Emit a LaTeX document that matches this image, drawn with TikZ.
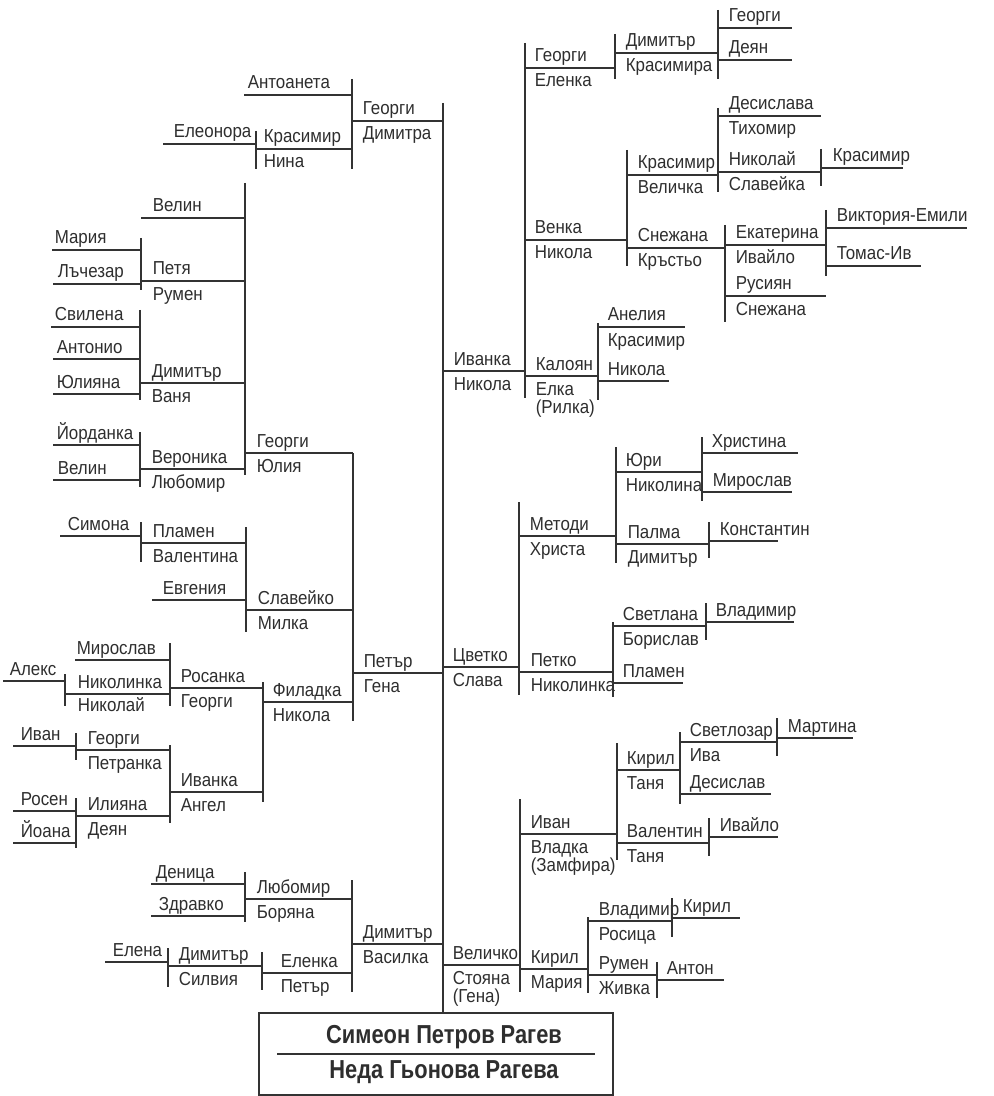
\documentclass[tikz,border=0pt]{standalone}
\usepackage{fontspec}
\setmainfont{Liberation Sans}[FakeStretch=0.9]
\newfontfamily\rootfont{Liberation Sans}[FakeStretch=0.84]
\begin{document}
\begin{tikzpicture}[x=0.5pt, y=-0.5pt, line width=0.8pt, draw=black!80,
  nm/.style={anchor=base west, inner sep=0pt, text=black!82, font=\fontsize{9.4}{10}\selectfont},
  rootnm/.style={anchor=base, inner sep=0pt, text=black!82, font=\rootfont\bfseries\fontsize{13}{14}\selectfont}]
\useasboundingbox (0,0) rectangle (994,1096);

% trunk and root box
\draw (443,103) -- (443,1013);
\draw (259,1095) -- (259,1013) -- (613,1013) -- (613,1095) -- cycle;
\node[rootnm] (simeon) at (444,1043) {Симеон Петров Рагев};
\node[rootnm] (neda) at (444,1078) {Неда Гьонова Рагева};
\draw (277,1054) -- (595,1054);

% ---- left: Георги / Димитра
\draw (352,121) -- (443,121);
\node[nm] (gd-a) at (362,115) {Георги};
\node[nm] (gd-b) at (362,140) {Димитра};
\draw (352,79) -- (352,169);
\draw (244,95) -- (352,95);
\node[nm] (antoaneta) at (247,89) {Антоанета};
\draw (256,149) -- (352,149);
\node[nm] (kn-a) at (263,143) {Красимир};
\node[nm] (kn-b) at (263,168) {Нина};
\draw (256,131) -- (256,169);
\draw (163,144) -- (256,144);
\node[nm] (eleonora) at (173,138) {Елеонора};

% ---- left: Петър / Гена
\draw (353,673) -- (443,673);
\node[nm] (pg-a) at (363,667) {Петър};
\node[nm] (pg-b) at (363,692) {Гена};
\draw (353,453) -- (353,721);
% Георги / Юлия
\draw (245,453) -- (353,453);
\node[nm] (gj-a) at (256,447) {Георги};
\node[nm] (gj-b) at (256,472) {Юлия};
\draw (245,183) -- (245,475);
\draw (141,218) -- (245,218);
\node[nm] (velin1) at (152,212) {Велин};
\draw (141,281) -- (245,281);
\node[nm] (pr-a) at (152,275) {Петя};
\node[nm] (pr-b) at (152,300) {Румен};
\draw (141,238) -- (141,290);
\draw (52,250) -- (141,250);
\node[nm] (mariya1) at (54,244) {Мария};
\draw (53,284) -- (141,284);
\node[nm] (lachezar) at (57,278) {Лъчезар};
\draw (141,383) -- (245,383);
\node[nm] (dv-a) at (151,377) {Димитър};
\node[nm] (dv-b) at (151,402) {Ваня};
\draw (140,310) -- (140,400);
\draw (51,327) -- (140,327);
\node[nm] (svilena) at (54,321) {Свилена};
\draw (53,359) -- (140,359);
\node[nm] (antonio) at (56,353) {Антонио};
\draw (53,394) -- (140,394);
\node[nm] (yuliyana) at (56,388) {Юлияна};
\draw (141,469) -- (245,469);
\node[nm] (vl-a) at (151,463) {Вероника};
\node[nm] (vl-b) at (151,488) {Любомир};
\draw (140,432) -- (140,487);
\draw (53,445) -- (140,445);
\node[nm] (yordanka) at (56,439) {Йорданка};
\draw (53,480) -- (140,480);
\node[nm] (velin2) at (57,474) {Велин};
% Славейко / Милка
\draw (246,610) -- (353,610);
\node[nm] (sm-a) at (257,604) {Славейко};
\node[nm] (sm-b) at (257,629) {Милка};
\draw (246,527) -- (246,632);
\draw (141,543) -- (246,543);
\node[nm] (pv-a) at (152,537) {Пламен};
\node[nm] (pv-b) at (152,562) {Валентина};
\draw (141,522) -- (141,562);
\draw (60,536) -- (141,536);
\node[nm] (simona) at (67,530) {Симона};
\draw (152,600) -- (246,600);
\node[nm] (evgeniya) at (162,594) {Евгения};
% Филадка / Никола
\draw (263,702) -- (353,702);
\node[nm] (fn-a) at (272,696) {Филадка};
\node[nm] (fn-b) at (272,721) {Никола};
\draw (263,682) -- (263,802);
\draw (170,688) -- (263,688);
\node[nm] (rg-a) at (180,682) {Росанка};
\node[nm] (rg-b) at (180,707) {Георги};
\draw (170,643) -- (170,706);
\draw (75,660) -- (170,660);
\node[nm] (miroslav1) at (76,654) {Мирослав};
\draw (65,694) -- (170,694);
\node[nm] (nn-a) at (77,688) {Николинка};
\node[nm] (nn-b) at (77,711) {Николай};
\draw (65,674) -- (65,706);
\draw (3,681) -- (65,681);
\node[nm] (aleks) at (9,675) {Алекс};
\draw (170,792) -- (263,792);
\node[nm] (ia-a) at (180,786) {Иванка};
\node[nm] (ia-b) at (180,811) {Ангел};
\draw (170,745) -- (170,823);
\draw (76,750) -- (170,750);
\node[nm] (gp-a) at (87,744) {Георги};
\node[nm] (gp-b) at (87,769) {Петранка};
\draw (76,733) -- (76,760);
\draw (13,746) -- (76,746);
\node[nm] (ivan1) at (20,740) {Иван};
\draw (76,816) -- (170,816);
\node[nm] (id-a) at (87,810) {Илияна};
\node[nm] (id-b) at (87,835) {Деян};
\draw (76,798) -- (76,848);
\draw (13,811) -- (76,811);
\node[nm] (rosen) at (20,805) {Росен};
\draw (13,843) -- (76,843);
\node[nm] (yoana) at (20,837) {Йоана};

% ---- left: Димитър / Василка
\draw (352,944) -- (443,944);
\node[nm] (dva-a) at (362,938) {Димитър};
\node[nm] (dva-b) at (362,963) {Василка};
\draw (352,880) -- (352,992);
\draw (245,899) -- (352,899);
\node[nm] (lb-a) at (256,893) {Любомир};
\node[nm] (lb-b) at (256,918) {Боряна};
\draw (245,872) -- (245,922);
\draw (151,884) -- (245,884);
\node[nm] (denitsa) at (155,878) {Деница};
\draw (151,916) -- (245,916);
\node[nm] (zdravko) at (158,910) {Здравко};
\draw (262,973) -- (352,973);
\node[nm] (ep-a) at (280,967) {Еленка};
\node[nm] (ep-b) at (280,992) {Петър};
\draw (262,952) -- (262,990);
\draw (168,966) -- (262,966);
\node[nm] (ds-a) at (178,960) {Димитър};
\node[nm] (ds-b) at (178,985) {Силвия};
\draw (168,948) -- (168,987);
\draw (105,962) -- (168,962);
\node[nm] (elena) at (112,956) {Елена};

% ---- right: Иванка / Никола
\draw (443,371) -- (525,371);
\node[nm] (in-a) at (453,365) {Иванка};
\node[nm] (in-b) at (453,390) {Никола};
\draw (525,43) -- (525,398);
\draw (525,68) -- (615,68);
\node[nm] (ge-a) at (534,62) {Георги};
\node[nm] (ge-b) at (534,87) {Еленка};
\draw (615,34) -- (615,79);
\draw (615,53) -- (718,53);
\node[nm] (dk-a) at (625,47) {Димитър};
\node[nm] (dk-b) at (625,72) {Красимира};
\draw (718,10) -- (718,79);
\draw (718,28) -- (792,28);
\node[nm] (georgi5) at (728,22) {Георги};
\draw (718,60) -- (792,60);
\node[nm] (deyan2) at (728,54) {Деян};
\draw (525,240) -- (627,240);
\node[nm] (vn-a) at (534,234) {Венка};
\node[nm] (vn-b) at (534,259) {Никола};
\draw (627,150) -- (627,266);
\draw (627,175) -- (718,175);
\node[nm] (kv-a) at (637,169) {Красимир};
\node[nm] (kv-b) at (637,194) {Величка};
\draw (718,108) -- (718,192);
\draw (718,116) -- (821,116);
\node[nm] (desislava) at (728,110) {Десислава};
\node[nm] (tihomir) at (728,135) {Тихомир};
\draw (718,172) -- (821,172);
\node[nm] (ns-a) at (728,166) {Николай};
\node[nm] (ns-b) at (728,191) {Славейка};
\draw (821,149) -- (821,186);
\draw (821,168) -- (903,168);
\node[nm] (krasimir3) at (832,162) {Красимир};
\draw (627,248) -- (725,248);
\node[nm] (sk-a) at (637,242) {Снежана};
\node[nm] (sk-b) at (637,267) {Кръстьо};
\draw (725,225) -- (725,322);
\draw (725,245) -- (826,245);
\node[nm] (ei-a) at (735,239) {Екатерина};
\node[nm] (ei-b) at (735,264) {Ивайло};
\draw (826,210) -- (826,276);
\draw (826,228) -- (967,228);
\node[nm] (viktoriya) at (836,222) {Виктория-Емили};
\draw (826,266) -- (921,266);
\node[nm] (tomas) at (836,260) {Томас-Ив};
\draw (725,296) -- (826,296);
\node[nm] (rs-a) at (735,290) {Русиян};
\node[nm] (rs-b) at (735,315) {Снежана};
\draw (525,376) -- (598,376);
\node[nm] (ke-a) at (535,370) {Калоян};
\node[nm] (ke-b) at (535,395) {Елка};
\node[nm] (ke-c) at (535,413) {(Рилка)};
\draw (598,323) -- (598,400);
\draw (598,327) -- (685,327);
\node[nm] (aneliya) at (607,321) {Анелия};
\node[nm] (krasimir4) at (607,346) {Красимир};
\draw (598,381) -- (669,381);
\node[nm] (nikola4) at (607,375) {Никола};

% ---- right: Цветко / Слава
\draw (443,667) -- (519,667);
\node[nm] (ts-a) at (452,661) {Цветко};
\node[nm] (ts-b) at (452,686) {Слава};
\draw (519,502) -- (519,695);
\draw (519,536) -- (616,536);
\node[nm] (mh-a) at (529,530) {Методи};
\node[nm] (mh-b) at (529,555) {Христа};
\draw (616,447) -- (616,563);
\draw (616,472) -- (702,472);
\node[nm] (yn-a) at (625,466) {Юри};
\node[nm] (yn-b) at (625,491) {Николина};
\draw (702,437) -- (702,501);
\draw (702,453) -- (798,453);
\node[nm] (hristina) at (711,447) {Христина};
\draw (702,492) -- (792,492);
\node[nm] (miroslav2) at (712,486) {Мирослав};
\draw (616,544) -- (709,544);
\node[nm] (pd-a) at (627,538) {Палма};
\node[nm] (pd-b) at (627,563) {Димитър};
\draw (709,522) -- (709,558);
\draw (709,541) -- (778,541);
\node[nm] (konstantin) at (719,535) {Константин};
\draw (519,672) -- (613,672);
\node[nm] (pn-a) at (530,666) {Петко};
\node[nm] (pn-b) at (530,691) {Николинка};
\draw (613,622) -- (613,697);
\draw (613,626) -- (706,626);
\node[nm] (sb-a) at (622,620) {Светлана};
\node[nm] (sb-b) at (622,645) {Борислав};
\draw (706,603) -- (706,640);
\draw (706,622) -- (794,622);
\node[nm] (vladimir1) at (715,616) {Владимир};
\draw (613,683) -- (683,683);
\node[nm] (plamen2) at (622,677) {Пламен};

% ---- right: Величко / Стояна
\draw (443,965) -- (520,965);
\node[nm] (vs-a) at (452,959) {Величко};
\node[nm] (vs-b) at (452,984) {Стояна};
\node[nm] (vs-c) at (452,1002) {(Гена)};
\draw (520,799) -- (520,992);
\draw (520,834) -- (617,834);
\node[nm] (iv-a) at (530,828) {Иван};
\node[nm] (iv-b) at (530,853) {Владка};
\node[nm] (iv-c) at (530,871) {(Замфира)};
\draw (617,743) -- (617,860);
\draw (617,770) -- (680,770);
\node[nm] (kt-a) at (626,764) {Кирил};
\node[nm] (kt-b) at (626,789) {Таня};
\draw (680,732) -- (680,804);
\draw (680,742) -- (777,742);
\node[nm] (si-a) at (689,736) {Светлозар};
\node[nm] (si-b) at (689,761) {Ива};
\draw (777,718) -- (777,756);
\draw (777,738) -- (853,738);
\node[nm] (martina) at (787,732) {Мартина};
\draw (680,794) -- (771,794);
\node[nm] (desislav) at (689,788) {Десислав};
\draw (617,843) -- (709,843);
\node[nm] (vt-a) at (626,837) {Валентин};
\node[nm] (vt-b) at (626,862) {Таня};
\draw (709,818) -- (709,856);
\draw (709,837) -- (778,837);
\node[nm] (ivaylo2) at (719,831) {Ивайло};
\draw (520,969) -- (588,969);
\node[nm] (km-a) at (530,963) {Кирил};
\node[nm] (km-b) at (530,988) {Мария};
\draw (588,917) -- (588,993);
\draw (588,921) -- (672,921);
\node[nm] (vr-a) at (598,915) {Владимир};
\node[nm] (vr-b) at (598,940) {Росица};
\draw (672,898) -- (672,937);
\draw (672,918) -- (740,918);
\node[nm] (kiril3) at (682,912) {Кирил};
\draw (588,975) -- (657,975);
\node[nm] (rz-a) at (598,969) {Румен};
\node[nm] (rz-b) at (598,994) {Живка};
\draw (657,962) -- (657,998);
\draw (657,980) -- (724,980);
\node[nm] (anton) at (666,974) {Антон};

\end{tikzpicture}
\end{document}
